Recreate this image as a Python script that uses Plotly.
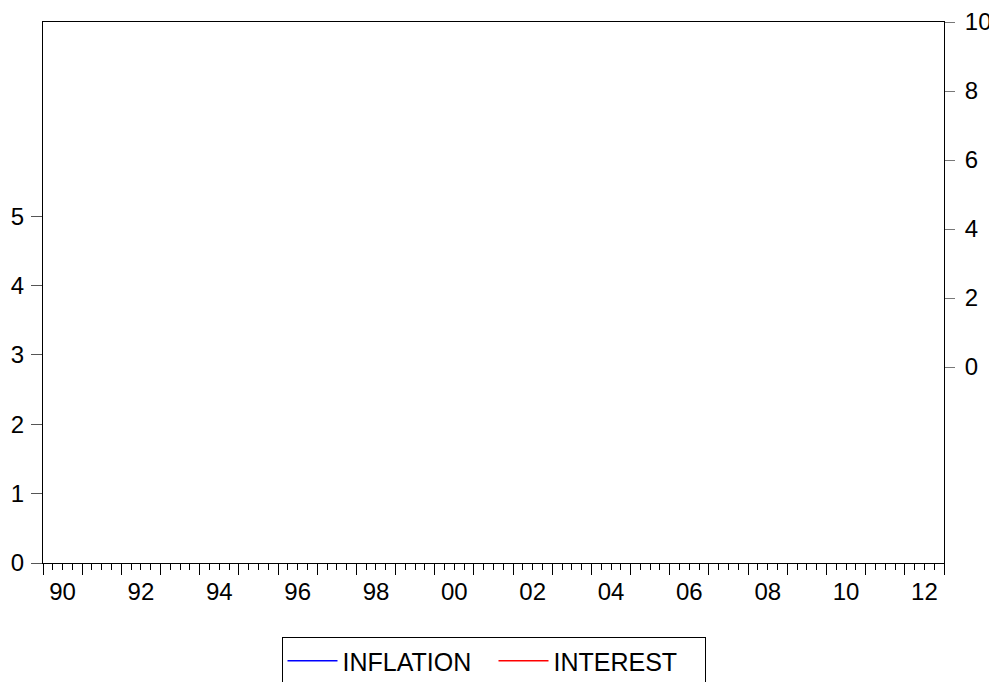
import plotly.graph_objects as go

# ---- data (the reference chart shows no plotted observations) ----
dates = [None]        # no visible observations
inflation = [None]    # INFLATION series: no visible values
interest = [None]     # INTEREST series: no visible values

x_start, x_end = 1990, 2013
label_years = [1990, 1992, 1994, 1996, 1998, 2000, 2002, 2004, 2006, 2008, 2010, 2012]
x_labels = ["90", "92", "94", "96", "98", "00", "02", "04", "06", "08", "10", "12"]
left_ticks = [0, 1, 2, 3, 4, 5]
right_ticks = [0, 2, 4, 6, 8, 10]

FONT = "Arial, Liberation Sans, Helvetica, sans-serif"
FS = 24

fig = go.Figure()
fig.add_trace(go.Scatter(x=dates, y=inflation, name="INFLATION", mode="lines",
                         line=dict(color="#0000ff", width=1.5), xaxis="x", yaxis="y",
                         hoverinfo="skip"))
fig.add_trace(go.Scatter(x=dates, y=interest, name="INTEREST", mode="lines",
                         line=dict(color="#ff0000", width=1.5), xaxis="x2", yaxis="y2",
                         hoverinfo="skip"))

# page body adds an 8px offset, so the figure is sized to the remaining area
fig.update_layout(
    template="none",
    width=989, height=674,
    margin=dict(l=35, r=53, t=14, b=119, autoexpand=False),
    paper_bgcolor="white", plot_bgcolor="white",
    font=dict(family=FONT, size=FS, color="black"),
    showlegend=True,
    legend=dict(orientation="h", x=0.5, xanchor="center", y=-0.137, yanchor="top",
                bordercolor="black", borderwidth=1, font=dict(size=25, color="black"),
                itemwidth=50, entrywidth=146, entrywidthmode="pixels",
                bgcolor="white", tracegroupgap=0),
    xaxis=dict(range=[x_start, x_end], tickvals=list(range(x_start, x_end + 1)),
               ticktext=["" for _ in range(x_start, x_end + 1)],
               ticks="outside", ticklen=11, tickcolor="black", tickwidth=1,
               minor=dict(dtick=0.25, tick0=x_start, ticks="outside", ticklen=6,
                          tickcolor="black", tickwidth=1, showgrid=False),
               showline=True, linecolor="black", linewidth=1, mirror=True,
               showgrid=False, zeroline=False, automargin=False),
    xaxis2=dict(range=[x_start, x_end], overlaying="x", anchor="y", side="bottom",
                tickvals=[y + 0.5 for y in label_years], ticktext=x_labels,
                ticks="", ticklabelstandoff=12, showline=False, showgrid=False,
                zeroline=False, automargin=False, tickfont=dict(size=FS, color="black")),
    yaxis=dict(range=[0, 7.8], tickvals=left_ticks, ticktext=[str(v) for v in left_ticks],
               ticks="outside", ticklen=11, tickcolor="#555", tickwidth=1,
               ticklabelstandoff=2,
               showline=True, linecolor="black", linewidth=1,
               showgrid=False, zeroline=False, automargin=False,
               tickfont=dict(size=FS, color="black")),
    yaxis2=dict(range=[-5.68, 10], tickvals=right_ticks, ticktext=[str(v) for v in right_ticks],
                overlaying="y", side="right", anchor="x",
                ticks="outside", ticklen=10, tickcolor="#777", tickwidth=1,
                ticklabelstandoff=5,
                showline=True, linecolor="black", linewidth=1,
                showgrid=False, zeroline=False, automargin=False,
                tickfont=dict(size=FS, color="black")),
)

fig.write_html("out.html")
